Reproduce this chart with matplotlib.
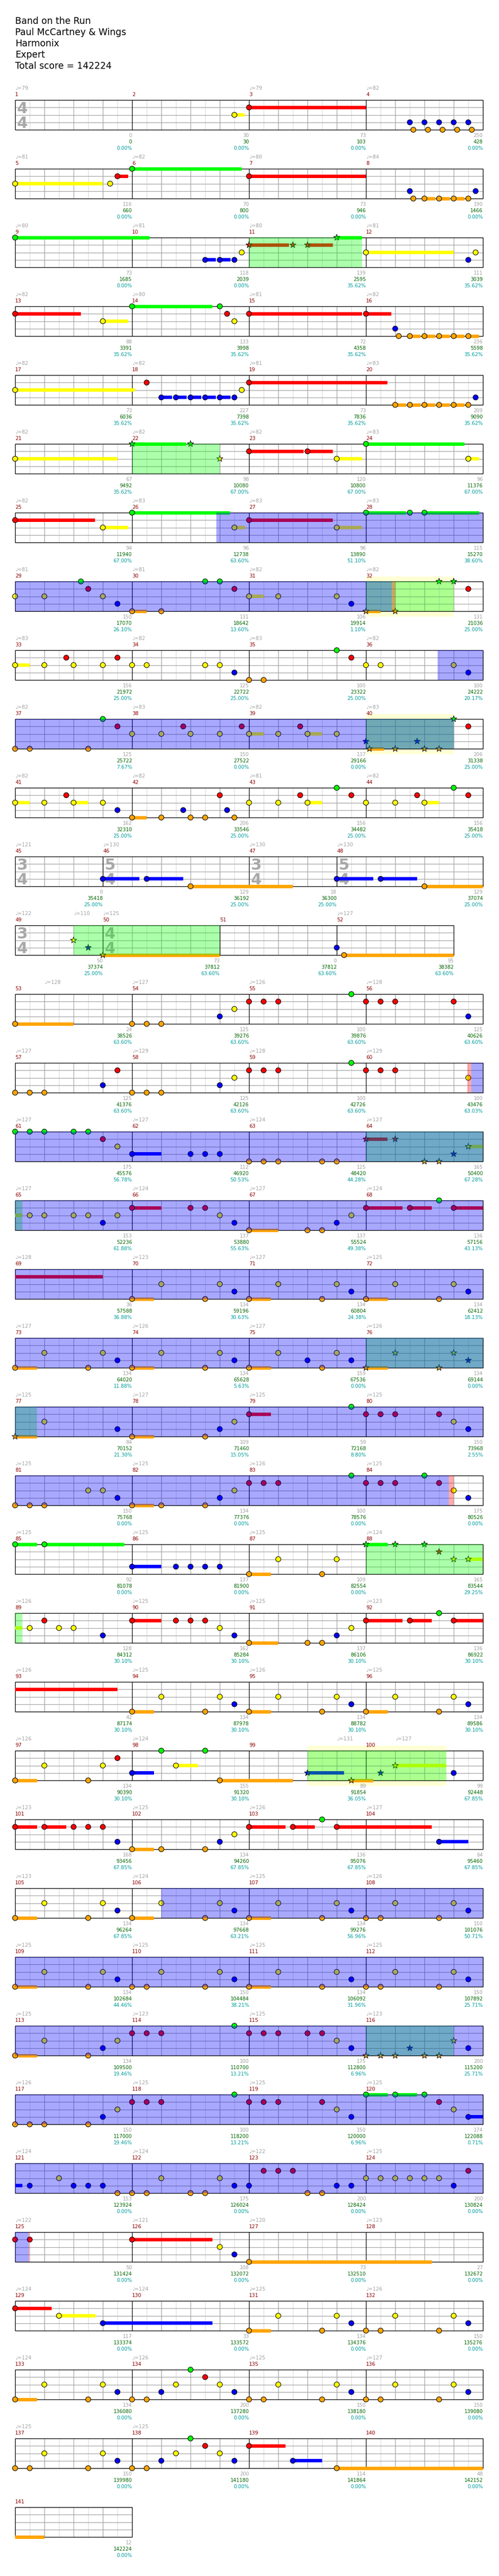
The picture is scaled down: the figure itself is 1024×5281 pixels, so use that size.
import matplotlib
matplotlib.use('Agg')
import matplotlib.pyplot as plt
from matplotlib.patches import Rectangle
from matplotlib.collections import LineCollection

# ---- song info ----
title_lines = ["Band on the Run", "Paul McCartney & Wings", "Harmonix", "Expert",
               "Total score = 142224"]

n_measures = 141
measure_len = {45: 3, 46: 5, 47: 3, 48: 5, 49: 3}       # beats, others are 4
time_sigs = {1: (4, 4), 45: (3, 4), 46: (5, 4), 47: (3, 4), 48: (5, 4), 49: (3, 4), 50: (4, 4)}

# tempo marks: (measure, beat, bpm)
tempos = [(1, 0, 79), (3, 0, 79), (4, 0, 82), (5, 0, 81), (6, 0, 82), (7, 0, 80), (8, 0, 84),
          (9, 0, 80), (10, 0, 81), (11, 0, 80), (12, 0, 81), (13, 0, 82), (14, 0, 80), (15, 0, 81),
          (16, 0, 82), (17, 0, 82), (18, 0, 82), (19, 0, 81), (20, 0, 83), (21, 0, 82), (22, 0, 82),
          (23, 0, 82), (24, 0, 83), (25, 0, 82), (26, 0, 83), (27, 0, 83), (28, 0, 83), (29, 0, 81),
          (30, 0, 81), (31, 0, 82), (32, 0, 82), (33, 0, 83), (34, 0, 82), (35, 0, 83), (36, 0, 82),
          (37, 0, 82), (38, 0, 83), (39, 0, 82), (40, 0, 83), (41, 0, 82), (42, 0, 82), (43, 0, 81),
          (44, 0, 82), (45, 0, 121), (46, 0, 130), (47, 0, 130), (48, 0, 130), (49, 0, 122),
          (49, 2, 110), (50, 0, 125), (52, 0, 127), (53, 1, 128), (54, 0, 127), (55, 0, 126),
          (56, 0, 128), (57, 0, 127), (58, 0, 129), (59, 0, 128), (60, 0, 129), (61, 0, 127),
          (62, 0, 127), (63, 0, 124), (64, 0, 127), (65, 0, 127), (66, 0, 124), (67, 0, 127),
          (68, 0, 124), (69, 0, 128), (70, 0, 123), (71, 0, 127), (72, 0, 125), (73, 0, 127),
          (74, 0, 126), (75, 0, 127), (76, 0, 126), (77, 0, 125), (78, 0, 127), (79, 0, 125),
          (80, 0, 125), (81, 0, 125), (82, 0, 125), (83, 0, 126), (84, 0, 125), (85, 0, 125),
          (86, 0, 125), (87, 0, 125), (88, 0, 124), (89, 0, 126), (90, 0, 125), (91, 0, 125),
          (92, 0, 123), (93, 0, 126), (94, 0, 125), (95, 0, 126), (96, 0, 125), (97, 0, 126),
          (98, 0, 124), (99, 3, 131), (100, 1, 127), (101, 0, 123), (102, 0, 125), (103, 0, 126),
          (104, 0, 127), (105, 0, 123), (106, 0, 124), (107, 0, 125), (108, 0, 126), (109, 0, 125),
          (110, 0, 125), (111, 0, 125), (112, 0, 125), (113, 0, 125), (114, 0, 123), (115, 0, 125),
          (116, 0, 123), (117, 0, 126), (118, 0, 125), (119, 0, 125), (120, 0, 125), (121, 0, 124),
          (122, 0, 124), (123, 0, 122), (124, 0, 125), (125, 0, 122), (126, 0, 121), (127, 0, 120),
          (128, 0, 123), (129, 0, 124), (130, 0, 124), (131, 0, 125), (132, 0, 126), (133, 0, 124),
          (134, 0, 126), (135, 0, 125), (136, 0, 127), (137, 0, 125), (138, 0, 125)]

# per measure: base score, running total, SP meter
measure_score = [0, 30, 73, 250, 116, 70, 73, 190, 73, 118, 139, 111, 88, 133, 72, 236,
                 73, 227, 73, 209, 67, 98, 120, 96, 94, 96, 96, 115, 150, 131, 106, 131,
                 156, 125, 100, 100, 125, 150, 137, 206, 162, 206, 156, 156, 0, 129, 18, 129,
                 50, 73, 0, 95, 24, 125, 100, 125, 125, 125, 100, 100, 175, 112, 125, 165,
                 153, 137, 137, 136, 36, 134, 134, 134, 134, 134, 159, 134, 84, 109, 59, 150,
                 150, 134, 100, 175, 92, 137, 109, 165, 128, 162, 137, 136, 42, 134, 134, 134,
                 134, 155, 89, 99, 168, 134, 136, 64, 134, 134, 134, 150, 134, 150, 134, 150,
                 134, 100, 175, 200, 150, 100, 150, 174, 153, 175, 200, 200, 50, 108, 73, 27,
                 117, 33, 134, 150, 134, 200, 150, 150, 150, 200, 114, 48, 12]
running_total = [0, 30, 103, 428, 660, 800, 946, 1466, 1685, 2039, 2595, 3039, 3391, 3998, 4358, 5598,
                 6036, 7398, 7836, 9090, 9492, 10080, 10800, 11376, 11940, 12738, 13890, 15270,
                 17070, 18642, 19914, 21036, 21972, 22722, 23322, 24222, 25722, 27522, 29166, 31338,
                 32310, 33546, 34482, 35418, 35418, 36192, 36300, 37074, 37374, 37812, 37812, 38382,
                 38526, 39276, 39876, 40626, 41376, 42126, 42726, 43476, 45576, 46920, 48420, 50400,
                 52236, 53880, 55524, 57156, 57588, 59196, 60804, 62412, 64020, 65628, 67536, 69144,
                 70152, 71460, 72168, 73968, 75768, 77376, 78576, 80526, 81078, 81900, 82554, 83544,
                 84312, 85284, 86106, 86922, 87174, 87978, 88782, 89586, 90390, 91320, 91854, 92448,
                 93456, 94260, 95076, 95460, 96264, 97668, 99276, 101076, 102684, 104484, 106092,
                 107892, 109500, 110700, 112800, 115200, 117000, 118200, 120000, 122088, 123924,
                 126024, 128424, 130824, 131424, 132072, 132510, 132672, 133374, 133572, 134376,
                 135276, 136080, 137280, 138180, 139080, 139980, 141180, 141864, 142152, 142224]
sp_meter = ([0.0] * 10 + [35.62] * 11 + [67.0] * 4 + [63.6, 51.1, 38.6, 26.1, 13.6, 1.1, 25.0,
            25.0, 25.0, 25.0, 20.17, 7.67, 0.0, 0.0] + [25.0] * 10 + [63.6] * 10 +
            [63.03, 56.78, 50.53, 44.28, 67.28, 61.88, 55.63, 49.38, 43.13, 36.88, 30.63, 24.38,
             18.13, 11.88, 5.63, 0.0, 0.0, 21.3, 15.05, 8.8, 2.55] + [0.0] * 7 + [29.25] +
            [30.1] * 10 + [36.05] + [67.85] * 6 + [63.21, 56.96, 50.71, 44.46, 38.21, 31.96,
            25.71, 19.46, 13.21, 6.96, 25.71, 19.46, 13.21, 6.96, 0.71] + [0.0] * 21)

# notes per 4-measure line: (beat from first measure of line, fret, sustain)
# G R Y B O = frets, lower case = star power note
notes = {
    1: [(7.5, 'Y', .35), (8, 'R', 4), (13.5, 'B'), (14, 'B'), (14.5, 'B'), (15, 'B'), (15.5, 'B'),
        (13.62, 'O'), (14.12, 'O'), (14.62, 'O'), (15.12, 'O'), (15.62, 'O')],
    5: [(0, 'Y', 3), (3.25, 'Y'), (3.5, 'R', .36), (4, 'G', 3.75), (8, 'R', 4), (13.5, 'B'),
        (15.75, 'B'), (13.62, 'O'), (14, 'O', .37), (14.5, 'O', .37), (15, 'O', .37), (15.5, 'O')],
    9: [(0, 'G', 4.6), (6.5, 'B', .36), (7, 'B', .36), (7.5, 'B'), (7.75, 'Y'), (8, 'r', 1.36),
        (9.5, 'r'), (10, 'r', .86), (11, 'g', .86), (12, 'Y', 3), (15.5, 'B'), (15.75, 'Y')],
    13: [(0, 'R', 2.25), (3, 'Y', .86), (4, 'G', 2.75), (7, 'G'), (7.25, 'R'), (7.5, 'Y'),
         (8, 'R', 3.86), (12, 'R', .87), (13, 'B'), (13.12, 'O'), (13.5, 'O', .37), (14, 'O', .37),
         (14.5, 'O', .37), (15, 'O', .37), (15.5, 'O', .36)],
    17: [(0, 'Y', 4.1), (4.5, 'R'), (5, 'B', .36), (5.5, 'B', .36), (6, 'B', .36), (6.5, 'B', .36),
         (7, 'B', .36), (7.5, 'B'), (7.75, 'Y'), (8, 'R', 4.74), (13, 'O', .36), (13.5, 'O', .36),
         (14, 'O', .36), (14.5, 'O', .36), (15, 'O', .36), (15.5, 'O'), (15.75, 'B')],
    21: [(0, 'Y', 3.5), (4, 'g', 1.85), (6, 'g'), (7, 'y'), (8, 'R', 1.86), (10, 'R', .86),
         (11, 'Y', .86), (12, 'G', 3.36), (15.5, 'Y', .36)],
    25: [(0, 'R', 2.74), (3, 'Y', .86), (4, 'G', 3.35), (7.5, 'Y', .36), (8, 'R', 2.86),
         (11, 'Y', .86), (12, 'G', 1.36), (13.5, 'G'), (14, 'G', 1.86)],
    29: [(0, 'Y'), (1, 'Y'), (2.25, 'G'), (2.5, 'R'), (3, 'Y'), (3.5, 'B'), (4, 'O', .5), (5, 'O'),
         (6.5, 'G'), (7, 'G'), (7.5, 'R'), (8, 'Y', .5), (9, 'Y'), (11, 'Y'), (11.5, 'B'),
         (12, 'o', .5), (13, 'o'), (14.5, 'g'), (15, 'g'), (15.5, 'R')],
    33: [(0, 'Y', .5), (1, 'Y'), (1.75, 'R'), (2, 'Y'), (3, 'Y'), (3.5, 'R'), (4, 'Y'), (4.5, 'Y'),
         (6.5, 'Y'), (7, 'Y'), (7.5, 'B'), (8, 'O'), (8.5, 'O'), (11, 'G'), (11.5, 'R'), (12, 'Y'),
         (12.5, 'Y'), (15, 'Y'), (15.5, 'B')],
    37: [(0, 'O'), (.5, 'O'), (2.5, 'O'), (3, 'G'), (3.5, 'R'), (4, 'Y'), (5, 'Y'), (5.75, 'R'),
         (6, 'Y'), (7, 'Y'), (7.75, 'R'), (8, 'Y', .5), (9, 'Y'), (9.75, 'R'), (10, 'Y', .5),
         (11, 'Y'), (12, 'b'), (12.12, 'o', .5), (13, 'o'), (13.75, 'b'), (14, 'o'), (14.5, 'o'),
         (15, 'g'), (15.5, 'R')],
    41: [(0, 'Y', .5), (1, 'Y'), (1.75, 'R'), (2, 'Y', .5), (3, 'Y'), (3.5, 'B'), (4, 'O', .5),
         (5, 'O'), (5.75, 'B'), (6, 'O'), (6.5, 'O'), (7, 'R'), (7.25, 'B'), (7.5, 'O'), (8, 'Y'),
         (9, 'Y'), (9.75, 'R'), (10, 'Y', .5), (11, 'G'), (11.5, 'R'), (12, 'Y'), (13, 'Y'),
         (13.75, 'R'), (14, 'Y', .5), (15, 'G'), (15.5, 'R')],
    45: [(3, 'B', 1.25), (4.5, 'B', 1.25), (6, 'O', 3.5), (11, 'B', 1.25), (12.5, 'B', 1.25),
         (14, 'O', 2)],
    49: [(2, 'y'), (2.5, 'b'), (3, 'o', 4), (11, 'B'), (11.25, 'O', 3.75)],
    53: [(0, 'O', 2), (4, 'O'), (4.5, 'O'), (5, 'O'), (7, 'B'), (7.5, 'Y'), (8, 'R'), (8.5, 'R'),
         (9, 'R'), (11.5, 'G'), (12, 'R'), (12.5, 'R'), (13, 'R'), (15, 'R'), (15.5, 'B')],
    57: [(0, 'O'), (.5, 'O'), (1, 'O'), (3, 'B'), (3.5, 'R'), (4, 'O'), (4.5, 'O'), (5, 'O'),
         (7, 'B'), (7.5, 'Y'), (8, 'R'), (8.5, 'R'), (9, 'R'), (11.5, 'G'), (12, 'R'), (12.5, 'R'),
         (13, 'R'), (15.5, 'Y')],
    61: [(0, 'G'), (.5, 'G'), (1, 'G'), (2, 'G'), (2.5, 'G'), (3, 'R'), (3.5, 'Y'), (4, 'B', 1),
         (6, 'B'), (6.5, 'B'), (7, 'B'), (8, 'O'), (8.5, 'O'), (9, 'O'), (10.5, 'O'), (11, 'O'),
         (12, 'r', .74), (13, 'r'), (14, 'o'), (14.5, 'o'), (15, 'b'), (15.5, 'y', .75)],
    65: [(.5, 'Y'), (1, 'Y'), (2, 'Y'), (2.5, 'Y'), (3, 'B'), (3.5, 'Y'), (4, 'R', 1), (6, 'R'),
         (6.5, 'R'), (7, 'Y'), (7.5, 'B'), (8, 'O', 1), (10, 'O'), (10.5, 'O'), (11, 'B'),
         (11.5, 'Y'), (12, 'R', 1.25), (13.5, 'R', .75), (14.5, 'G'), (15, 'R', 4)],
    69: [(4, 'O', .75), (5, 'Y'), (6.5, 'O'), (7, 'Y'), (7.5, 'B'), (8, 'O', .75), (9, 'Y'),
         (10.5, 'O'), (11, 'Y'), (11.5, 'B'), (12, 'O', .75), (13, 'Y'), (14.5, 'O'), (15, 'Y'),
         (15.5, 'B')],
    73: [(0, 'O', .75), (1, 'Y'), (2.5, 'O'), (3, 'Y'), (3.5, 'B'), (4, 'O', .75), (5, 'Y'),
         (6.5, 'O'), (7, 'Y'), (7.5, 'B'), (8, 'O', .75), (9, 'Y'), (10, 'B'), (10.5, 'O'),
         (11, 'Y'), (11.5, 'B'), (12, 'o', .75), (13, 'y'), (14.5, 'o'), (15, 'y'), (15.5, 'b')],
    77: [(0, 'o', .75), (1, 'Y'), (3.5, 'B'), (4, 'O', .75), (6.5, 'O'), (7, 'B'), (7.5, 'Y'),
         (8, 'R', .75), (11.5, 'G'), (12, 'R'), (12.5, 'R'), (13, 'R'), (14.5, 'R'), (15, 'Y'),
         (15.5, 'B')],
    81: [(0, 'O'), (.5, 'O'), (1, 'O'), (2.5, 'Y'), (3, 'Y'), (3.5, 'B'), (4, 'O', .75), (5, 'O'),
         (6.5, 'O'), (7, 'B'), (7.5, 'Y'), (8, 'R'), (8.5, 'R'), (9, 'R'), (11.5, 'G'), (12, 'R'),
         (12.5, 'R'), (13, 'R'), (14, 'G'), (14.5, 'R'), (15, 'Y'), (15.5, 'B')],
    85: [(0, 'G', .75), (1, 'G', 2.74), (4, 'B', 1), (5.5, 'B'), (6, 'B'), (6.5, 'B'), (7, 'B'),
         (8, 'O', .75), (9, 'Y'), (10.5, 'O'), (11, 'Y'), (12, 'g', .75), (13, 'g'), (14, 'g'),
         (14.5, 'r'), (15, 'y'), (15.5, 'y', .75)],
    89: [(.5, 'Y'), (1, 'R'), (1.5, 'Y'), (2, 'Y'), (3, 'B'), (4, 'R', 1), (5.5, 'R'), (6, 'R'),
         (6.5, 'R'), (7, 'Y'), (7.5, 'B'), (8, 'O', 1), (10, 'O'), (10.5, 'O'), (11, 'B'),
         (11.5, 'Y'), (12, 'R', 1.25), (13.5, 'R', .75), (14.5, 'G'), (15, 'R', 4.5)],
    93: [(4, 'O', .75), (5, 'Y'), (6.5, 'O'), (7, 'Y'), (7.5, 'B'), (8, 'O', .75), (9, 'Y'),
         (10.5, 'O'), (11, 'Y'), (11.5, 'B'), (12, 'O', .75), (13, 'Y'), (14.5, 'O'), (15, 'Y'),
         (15.5, 'B')],
    97: [(0, 'O', .75), (1, 'Y'), (2.5, 'O'), (3, 'Y'), (3.5, 'R'), (4, 'B', .75), (5, 'G'),
         (5.5, 'Y', .75), (6.5, 'G'), (7, 'O', 2.5), (10, 'b', 1.25), (11.5, 'o', .75),
         (12.5, 'b'), (13, 'y', 1.75), (15, 'B')],
    101: [(0, 'R', .75), (1, 'R', .75), (2, 'R'), (2.5, 'R'), (3, 'R'), (3.5, 'B'), (4, 'O', .75),
          (5, 'O'), (6.5, 'O'), (7, 'B'), (7.5, 'Y'), (8, 'R', 1.25), (9.5, 'R', .75), (10.5, 'G'),
          (11, 'R', 3.25), (14.5, 'B', 1)],
    105: [(0, 'O', .75), (1, 'Y'), (2.5, 'O'), (3, 'Y'), (3.5, 'B'), (4, 'O', .75), (5, 'Y'),
          (6.5, 'O'), (7, 'Y'), (7.5, 'B'), (8, 'O', .75), (9, 'Y'), (10.5, 'O'), (11, 'Y'),
          (11.5, 'B'), (12, 'O'), (12.5, 'O'), (13, 'Y'), (14.5, 'O'), (15, 'Y'), (15.5, 'B')],
    109: [(0, 'O', .75), (1, 'Y'), (2.5, 'O'), (3, 'Y'), (3.5, 'B'), (4, 'O'), (4.5, 'O'), (5, 'Y'),
          (6.5, 'O'), (7, 'Y'), (7.5, 'B'), (8, 'O', .75), (9, 'Y'), (10.5, 'O'), (11, 'Y'),
          (11.5, 'B'), (12, 'O'), (12.5, 'O'), (13, 'Y'), (14.5, 'O'), (15, 'Y'), (15.5, 'B')],
    113: [(0, 'O', .75), (1, 'Y'), (2.5, 'O'), (3, 'B'), (3.5, 'Y'), (4, 'R'), (4.5, 'R'), (5, 'R'),
          (7.5, 'G'), (8, 'R'), (8.5, 'R'), (9, 'R'), (10, 'R'), (10.5, 'R'), (11, 'Y'),
          (11.5, 'B'), (12, 'o'), (12.5, 'o'), (13, 'o'), (13.5, 'b'), (14, 'o'), (14.5, 'o'),
          (15, 'y'), (15.5, 'B')],
    117: [(0, 'O'), (.5, 'O'), (1, 'O'), (2.5, 'O'), (3, 'B'), (3.5, 'Y'), (4, 'R'), (4.5, 'R'),
          (5, 'R'), (7.5, 'G'), (8, 'R'), (8.5, 'R'), (9, 'R'), (10.5, 'R'), (11, 'Y'), (11.5, 'B'),
          (12, 'G', .75), (13, 'G', .75), (14, 'G'), (14.5, 'R'), (15, 'Y'), (15.5, 'B', .75)],
    121: [(.5, 'B'), (1.5, 'Y'), (2, 'B'), (2.5, 'B'), (3, 'B'), (3.5, 'O'), (4, 'O'), (4.5, 'O'),
          (5, 'Y'), (6, 'O'), (6.5, 'O'), (7, 'Y'), (7.5, 'B'), (8, 'B'), (8.5, 'R'), (9, 'R'),
          (9.5, 'R'), (10, 'O'), (10.5, 'O'), (11, 'B'), (11.5, 'B'), (12, 'Y'), (12.5, 'Y'),
          (13, 'Y'), (13.5, 'Y'), (14, 'Y'), (14.5, 'Y'), (15, 'B'), (15.5, 'R')],
    125: [(0, 'R'), (.5, 'R'), (4, 'R', 2.75), (7, 'Y'), (7.5, 'B'), (8, 'O', 6.25)],
    129: [(0, 'R', 1.25), (1.5, 'Y', 1.25), (3, 'B', 3.75), (8, 'O', .75), (9, 'Y'), (10.5, 'O'),
          (11, 'Y'), (11.5, 'B'), (12, 'O'), (12.5, 'O'), (13, 'Y'), (14.5, 'O'), (15, 'Y'),
          (15.5, 'B')],
    133: [(0, 'O', .75), (1, 'Y'), (2.5, 'O'), (3, 'Y'), (3.5, 'B'), (4, 'O'), (4.5, 'O'), (5, 'B'),
          (5.5, 'Y'), (6, 'G'), (6.5, 'R'), (7, 'Y'), (7.5, 'B'), (8, 'O'), (8.5, 'O'), (9, 'Y'),
          (10.5, 'O'), (11, 'Y'), (11.5, 'B'), (12, 'O'), (12.5, 'O'), (13, 'Y'), (14.5, 'O'),
          (15, 'Y'), (15.5, 'B')],
    137: [(0, 'O'), (.5, 'O'), (1, 'Y'), (2.5, 'O'), (3, 'Y'), (3.5, 'B'), (4, 'O'), (4.5, 'O'),
          (5, 'B'), (5.5, 'Y'), (6, 'G'), (6.5, 'R'), (7, 'Y'), (7.5, 'B'), (8, 'R', 1.25),
          (9.5, 'B', 1), (11, 'O', 6)],
}

# ranges: (measure, beat) -> (measure, beat)
activations = [((26, 2.89), (32, 0.89)), ((36, 2.45), (40, 3.0)),
               ((60, 3.6), (84, 2.84)), ((106, 1.0), (125, 0.46))]
activation_ends = [((32, 0.89), (32, 1.0)), ((60, 3.47), (60, 3.6)),
                   ((84, 2.84), (84, 3.0)), ((125, 0.46), (125, 0.5))]
sp_phrases = [((11, 0), (11, 3.87)), ((22, 0), (22, 3)), ((32, 0), (32, 3)), ((40, 0), (40, 3)),
              ((49, 2), (51, 0)), ((64, 0), (65, 0.25)), ((76, 0), (77, 0.75)),
              ((88, 0), (89, 0.25)), ((99, 2), (100, 2.75)), ((116, 0), (116, 3))]
sp_windows = [((32, 0), (32, 3)), ((40, 0), (40, 3)), ((99, 2), (100, 2.75))]

# ---- layout ----
W, H = 1024, 5281
LEFT, TOP0, ROW_H, BEAT_W, LANE_H = 31, 205, 141, 60, 15.25
fret_idx = {'G': 0, 'R': 1, 'Y': 2, 'B': 3, 'O': 4}
fret_col = ['#00ff00', '#ff0000', '#ffff00', '#0000ff', '#ffa500']

mlen = {m: measure_len.get(m, 4) for m in range(1, n_measures + 1)}
mstart = {}
acc = 0
for m in range(1, n_measures + 1):
    mstart[m] = acc
    acc += mlen[m]

rows = []
for r in range((n_measures + 3) // 4):
    a, b = 4 * r + 1, min(4 * r + 4, n_measures)
    rows.append((mstart[a], mstart[b] + mlen[b]))


def gpos(m, b):
    return mstart[m] + b


def xpos(g, r):
    return LEFT + (g - rows[r][0]) * BEAT_W


def top(r):
    return TOP0 + r * ROW_H


def pieces(g0, g1):
    for r, (a, b) in enumerate(rows):
        lo, hi = max(g0, a), min(g1, b)
        if hi > lo:
            yield r, lo, hi


fig = plt.figure(figsize=(W / 100, H / 100), dpi=100)
ax = fig.add_axes([0, 0, 1, 1])
ax.set_xlim(0, W)
ax.set_ylim(H, 0)
ax.axis('off')

for i, line in enumerate(title_lines):
    ax.text(LEFT, 49 + 23 * i, line, fontsize=13.4, va='baseline', ha='left', color='black')

STAFF_H = 4 * LANE_H

# pale yellow windows behind everything
for (s, e) in sp_windows:
    for r, lo, hi in pieces(gpos(*s), gpos(*e)):
        ax.add_patch(Rectangle((xpos(lo, r), top(r) - 10), (hi - lo) * BEAT_W, STAFF_H + 21,
                               facecolor='#ffffd4', edgecolor='none', zorder=1))

# staff grid
light, mid, dark = [], [], []
for r, (a, b) in enumerate(rows):
    t = top(r)
    k = a * 2
    while k <= b * 2:
        gb = k / 2
        x = xpos(gb, r)
        if gb != a and gb != b:
            (mid if k % 2 == 0 else light).append([(x, t), (x, t + STAFF_H)])
        k += 1
    for i in range(1, 4):
        mid.append([(xpos(a, r), t + i * LANE_H), (xpos(b, r), t + i * LANE_H)])
    for m in range(4 * r + 2, min(4 * r + 4, n_measures) + 1):
        x = xpos(mstart[m], r)
        dark.append([(x, t), (x, t + STAFF_H)])
    ax.add_patch(Rectangle((xpos(a, r), t), (b - a) * BEAT_W, STAFF_H, facecolor='none',
                           edgecolor='black', lw=1.0, zorder=3))
ax.add_collection(LineCollection(light, colors='#dcdcdc', linewidths=0.9, zorder=2))
ax.add_collection(LineCollection(mid, colors='#a0a0a0', linewidths=0.9, zorder=2.1))
ax.add_collection(LineCollection(dark, colors='black', linewidths=0.9, zorder=2.2))

# time signatures
for m, (num, den) in time_sigs.items():
    r = (m - 1) // 4
    x = xpos(mstart[m], r) + 4
    for val, yy in ((num, top(r) + 27), (den, top(r) + 57)):
        ax.text(x, yy, str(val), fontsize=23, fontweight='bold', color='#a8a8a8',
                ha='left', va='baseline', zorder=2.5)

# notes and sustains
cx, cy, cc, sx, sy, sc = [], [], [], [], [], []
for m0, lst in notes.items():
    r = (m0 - 1) // 4
    for item in lst:
        b, fret = item[0], item[1]
        sus = item[2] if len(item) > 2 else 0
        lane = fret_idx[fret.upper()]
        col = fret_col[lane]
        g = gpos(m0, b)
        if sus:
            for rr, lo, hi in pieces(g, g + sus):
                yy = top(rr) + lane * LANE_H
                ax.add_patch(Rectangle((xpos(lo, rr), yy - 3.5), (hi - lo) * BEAT_W, 7,
                                       facecolor=col, edgecolor='none', zorder=4))
        x, y = xpos(g, r), top(r) + lane * LANE_H
        if fret.islower():
            sx.append(x); sy.append(y); sc.append(col)
        else:
            cx.append(x); cy.append(y); cc.append(col)
ax.scatter(cx, cy, s=58, c=cc, edgecolors='black', linewidths=0.8, zorder=5)
ax.scatter(sx, sy, s=95, c=sc, marker='*', edgecolors='black', linewidths=0.7, zorder=5)

# overlays
for ranges, col, al in ((sp_phrases, '#00ff00', 0.33), (activations, '#0000ff', 0.34),
                        (activation_ends, '#ff0000', 0.33)):
    for (s, e) in ranges:
        for r, lo, hi in pieces(gpos(*s), gpos(*e)):
            ax.add_patch(Rectangle((xpos(lo, r), top(r)), (hi - lo) * BEAT_W, STAFF_H,
                                   facecolor=col, edgecolor='none', alpha=al, zorder=6))

# texts
for (m, b, bpm) in tempos:
    r = (m - 1) // 4
    ax.text(xpos(gpos(m, b), r), top(r) - 24, '\u2669=%d' % bpm, fontsize=7.5, color='#a0a0a0',
            ha='left', va='center', zorder=7)
for m in range(1, n_measures + 1):
    r = (m - 1) // 4
    t = top(r)
    ax.text(xpos(mstart[m], r), t - 11, str(m), fontsize=7.5, color='#8b0000', ha='left',
            va='center', zorder=7)
    xe = xpos(mstart[m] + mlen[m], r)
    i = m - 1
    ax.text(xe, t + STAFF_H + 12, str(measure_score[i]), fontsize=7.3, color='#a0a0a0',
            ha='right', va='center', zorder=7)
    ax.text(xe, t + STAFF_H + 25, str(running_total[i]), fontsize=7.3, color='#006400',
            ha='right', va='center', zorder=7)
    ax.text(xe, t + STAFF_H + 38, '%.2f%%' % sp_meter[i], fontsize=7.3, color='#009a9a',
            ha='right', va='center', zorder=7)

fig.savefig('out.png', dpi=100, facecolor='white')
